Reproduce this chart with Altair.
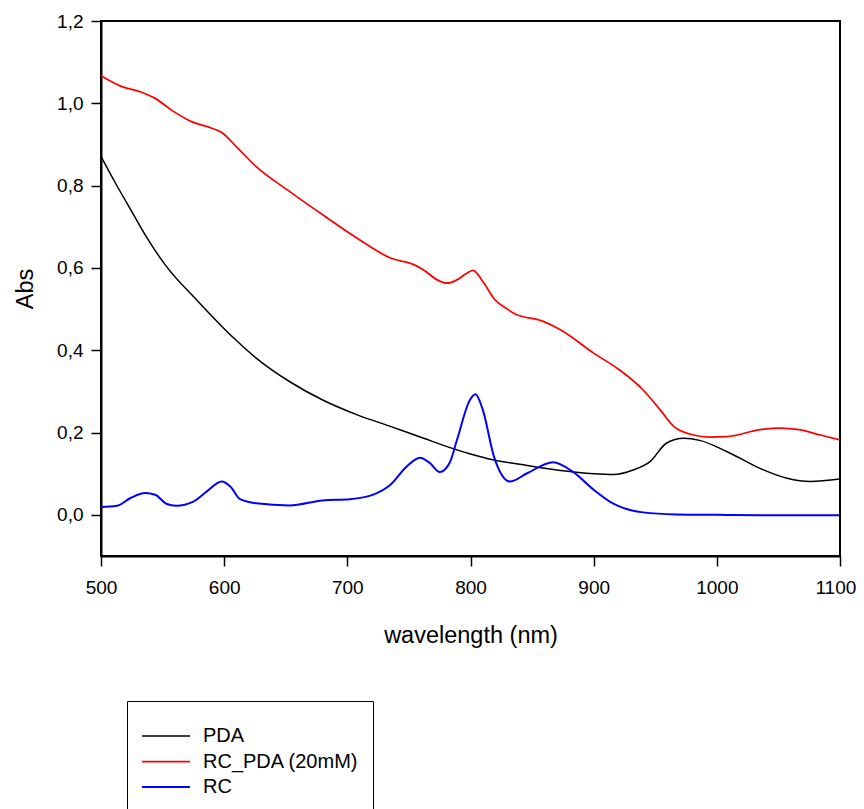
import altair as alt
import pandas as pd

# PDA (black)
pda_wl = [500, 511, 525, 538, 552, 579, 608, 626, 653, 680, 708, 735, 762,
          791, 800, 818, 846, 873, 900, 916, 932, 946, 959, 973, 986, 1008, 1035, 1057, 1076, 1100]
pda_abs = [0.871, 0.810, 0.737, 0.670, 0.608, 0.518, 0.429, 0.381, 0.324,
           0.279, 0.243, 0.215, 0.186, 0.156, 0.148, 0.134, 0.120, 0.108, 0.100, 0.098, 0.109,
           0.130, 0.174, 0.186, 0.181, 0.154, 0.113, 0.089, 0.081, 0.087]

# RC_PDA (20mM) (red)
rcpda_wl = [500, 516.5, 533, 544, 557, 573, 589.5, 598, 611, 626, 653, 680, 708, 735, 754, 762,
            773, 781, 789, 796, 802, 810, 820, 829, 835, 859, 873, 900, 921, 940, 954, 965, 981,
            994, 1008, 1035, 1051, 1067, 1084, 1100]
rcpda_abs = [1.067, 1.041, 1.027, 1.012, 0.984, 0.956, 0.940, 0.929, 0.891, 0.846, 0.786,
             0.729, 0.672, 0.624, 0.608, 0.595, 0.571, 0.563, 0.571, 0.585, 0.594, 0.567, 0.522,
             0.502, 0.490, 0.470, 0.450, 0.393, 0.352, 0.304, 0.255, 0.215, 0.194, 0.189, 0.190,
             0.207, 0.211, 0.207, 0.194, 0.182]

# RC (blue)
rc_wl = [500, 513, 524, 536, 544, 553, 561, 575, 586, 598, 605, 613, 626, 653, 680, 702, 721, 735,
         748, 759, 767, 775, 783, 789, 799.5, 804, 810, 819, 832, 846, 867, 883, 900, 916, 940, 967,
         1000, 1050, 1100]
rc_abs = [0.019, 0.022, 0.041, 0.053, 0.049, 0.027, 0.022, 0.032, 0.057, 0.081, 0.069, 0.038, 0.028,
          0.023, 0.035, 0.038, 0.049, 0.073, 0.117, 0.139, 0.126, 0.104, 0.126, 0.182, 0.279, 0.293,
          0.255, 0.142, 0.081, 0.101, 0.128, 0.105, 0.061, 0.027, 0.006, 0.001, 0.0, -0.001, -0.001]

series_names = ["PDA", "RC_PDA (20mM)", "RC"]
series_colors = ["#000000", "#ff0000", "#0000ff"]
series_widths = [1.5, 2, 2]

y_ticks = [0.0, 0.2, 0.4, 0.6, 0.8, 1.0, 1.2]
x_ticks = [500, 600, 700, 800, 900, 1000, 1100]

rows = []
for name, wl, ab in [(series_names[0], pda_wl, pda_abs),
                     (series_names[1], rcpda_wl, rcpda_abs),
                     (series_names[2], rc_wl, rc_abs)]:
    for i, (w, a) in enumerate(zip(wl, ab)):
        rows.append({"series": name, "wl": w, "abs": a, "order": i})
df = pd.DataFrame(rows)

FONT = "Liberation Sans"

chart = alt.Chart(df).mark_line(interpolate="monotone", clip=True).encode(
    x=alt.X("wl:Q",
            scale=alt.Scale(domain=[500, 1100], nice=False, zero=False),
            axis=alt.Axis(title="wavelength (nm)", values=x_ticks, format="d",
                          labelFlush=True, labelFlushOffset=15.8, labelOverlap=False,
                          titleY=79, titleBaseline="middle")),
    y=alt.Y("abs:Q",
            scale=alt.Scale(domain=[-0.1, 1.2], nice=False, zero=False),
            axis=alt.Axis(title="Abs", values=y_ticks, labelFlush=False, labelOverlap=False,
                          labelExpr="replace(format(datum.value, '.1f'), '.', ',')",
                          titleX=-76, titleY=267.5, titleBaseline="middle")),
    color=alt.Color("series:N",
                    scale=alt.Scale(domain=series_names, range=series_colors),
                    legend=alt.Legend(title=" ", orient="none", legendX=26, legendY=680,
                                      symbolType="M-1,0L3,0", symbolSize=576,
                                      symbolStrokeWidth=2, labelOffset=36,
                                      labelFontSize=20, labelFont=FONT, labelLimit=400,
                                      labelColor="#000000",
                                      titleFontSize=6, titlePadding=2,
                                      padding=14, rowPadding=2.5,
                                      strokeColor="#000000")),
    strokeWidth=alt.StrokeWidth("series:N",
                                scale=alt.Scale(domain=series_names, range=series_widths),
                                legend=None),
    order="order:Q",
).properties(
    width=739,
    height=535,
    autosize=alt.AutoSizeParams(type="none"),
    padding={"left": 93, "top": 13, "right": 16, "bottom": 253},
).configure_view(
    stroke="#000000", strokeWidth=2
).configure_axis(
    grid=False,
    domainColor="#000000", domainWidth=2,
    tickColor="#000000", tickWidth=1.5, tickSize=10,
    labelFont=FONT, labelFontSize=19, labelColor="#000000",
    titleFont=FONT, titleFontSize=23.5, titleFontWeight="normal", titleColor="#000000",
).configure_axisY(
    labelPadding=8
).configure_axisX(
    labelPadding=12
)

chart.save("out.html", embed_options={"renderer": "svg", "actions": False})
